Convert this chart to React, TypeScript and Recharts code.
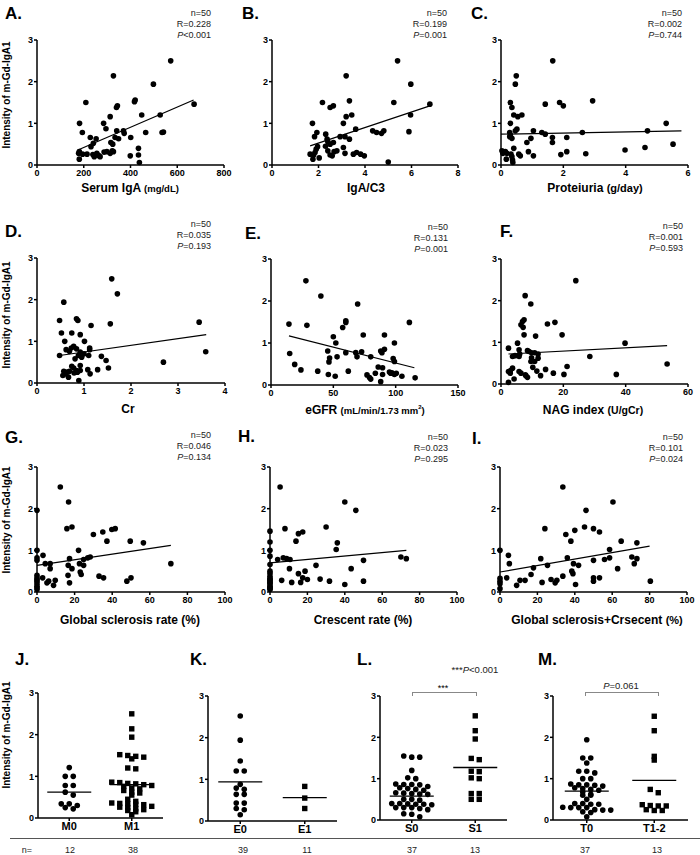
import React from 'react';
import { ScatterChart, Scatter, XAxis, YAxis, ReferenceLine } from 'recharts';

const FONT = '"Liberation Sans", Arial, Helvetica, sans-serif';

// ---- scatter panels: [x, intensity] ----
const igaPts = [[572,2.5],[327,2.14],[498,1.94],[209,1.5],[417,1.52],[420,1.56],[344,1.42],[340,1.38],[672,1.46],[313,1.16],[448,1.2],[527,1.2],[182,1.0],[285,1.0],[295,0.87],[341,0.82],[370,0.82],[373,0.76],[194,0.78],[465,0.78],[535,0.78],[541,0.79],[228,0.66],[253,0.63],[334,0.66],[349,0.63],[401,0.66],[316,0.54],[324,0.5],[231,0.44],[241,0.52],[181,0.32],[178,0.28],[181,0.14],[195,0.26],[214,0.26],[239,0.25],[245,0.2],[256,0.28],[263,0.23],[270,0.2],[287,0.31],[299,0.32],[313,0.28],[322,0.34],[327,0.32],[399,0.22],[434,0.4],[434,0.24],[438,0.06]];
const igaFit = [[175,0.36],[670,1.56]];

const c3Pts = [[5.4,2.5],[3.19,2.14],[5.97,1.94],[2.17,1.5],[3.33,1.54],[5.24,1.5],[2.5,1.38],[2.64,1.42],[3.43,1.2],[3.19,1.16],[5.96,1.2],[1.74,1.0],[3.07,1.0],[3.6,0.86],[1.93,0.78],[4.33,0.82],[4.5,0.78],[4.71,0.76],[4.81,0.82],[5.89,0.8],[6.79,1.46],[2.31,0.74],[1.83,0.68],[2.37,0.62],[2.4,0.56],[2.93,0.68],[3.14,0.68],[3.33,0.62],[2.5,0.5],[2.64,0.54],[1.96,0.44],[3.07,0.42],[1.9,0.38],[1.64,0.26],[1.79,0.24],[1.76,0.14],[2.03,0.17],[2.4,0.34],[2.5,0.24],[2.59,0.22],[2.67,0.32],[2.79,0.34],[3.14,0.28],[3.5,0.26],[3.64,0.3],[3.81,0.26],[3.97,0.22],[5.0,0.07],[2.3,0.45],[1.85,0.3]];
const c3Fit = [[1.64,0.46],[6.79,1.42]];

const protPts = [[1.66,2.5],[0.49,2.14],[0.46,1.94],[0.3,1.5],[0.35,1.38],[1.88,1.5],[2.0,1.42],[1.42,1.46],[2.94,1.54],[0.41,1.2],[0.54,1.16],[0.67,1.2],[0.3,1.0],[0.51,0.86],[0.46,0.82],[1.04,0.82],[0.28,0.78],[1.31,0.78],[1.42,0.74],[1.65,0.66],[2.11,0.66],[2.61,0.78],[4.7,0.82],[5.3,1.0],[0.28,0.68],[0.35,0.64],[0.96,0.64],[0.83,0.54],[1.65,0.54],[0.41,0.4],[0.03,0.34],[0.14,0.32],[0.88,0.32],[2.11,0.32],[0.19,0.28],[0.32,0.26],[0.35,0.2],[0.37,0.12],[0.38,0.06],[0.17,0.14],[0.57,0.26],[0.62,0.22],[1.04,0.22],[1.92,0.25],[2.72,0.27],[3.98,0.36],[4.62,0.42],[5.52,0.5],[0.06,0.28],[0.3,0.72]];
const protFit = [[0,0.74],[5.79,0.82]];

const crPts = [[1.59,2.5],[1.71,2.14],[0.57,1.94],[0.48,1.5],[0.84,1.54],[0.87,1.5],[1.56,1.42],[1.15,1.38],[3.45,1.46],[0.52,1.2],[0.74,1.2],[0.92,1.16],[0.59,1.0],[1.01,1.0],[0.73,0.84],[0.78,0.88],[0.84,0.82],[1.12,0.84],[1.12,0.8],[0.69,0.76],[0.92,0.74],[3.59,0.75],[0.48,0.66],[0.88,0.66],[1.1,0.66],[1.37,0.64],[0.81,0.58],[1.47,0.54],[2.69,0.5],[0.74,0.4],[0.92,0.42],[1.52,0.36],[0.57,0.28],[0.64,0.26],[0.55,0.18],[0.69,0.28],[0.79,0.24],[0.84,0.3],[0.86,0.26],[0.92,0.3],[1.08,0.32],[1.13,0.22],[1.29,0.32],[0.67,0.14],[0.89,0.06],[0.6,0.22],[0.95,0.62],[0.78,0.36],[1.0,0.7],[0.62,0.8]];
const crFit = [[0.48,0.66],[3.6,1.16]];

const gfrPts = [[28,2.48],[40,2.12],[69.5,1.93],[60,1.53],[60,1.49],[111,1.49],[57.5,1.37],[14.4,1.45],[28.8,1.42],[50,1.15],[74,1.19],[91,1.19],[52,1.0],[99,1.0],[91,0.85],[88,0.81],[89,0.77],[15,0.75],[45.5,0.81],[60,0.77],[68,0.77],[69,0.67],[72.7,0.79],[53,0.67],[80,0.67],[47,0.64],[46.5,0.55],[98,0.63],[99,0.56],[19,0.49],[24,0.36],[37.5,0.33],[62,0.33],[46,0.25],[51.5,0.21],[77,0.24],[79,0.18],[80,0.14],[83.7,0.28],[86,0.43],[89.5,0.41],[89.5,0.25],[88,0.08],[95,0.31],[97,0.29],[99,0.25],[100.5,0.28],[105,0.21],[115.6,0.17],[96,0.28]];
const gfrFit = [[14.4,1.17],[115,0.41]];

const nagPts = [[24,2.48],[7.75,2.12],[9.56,1.92],[7.4,1.54],[6.9,1.5],[17.3,1.48],[14.9,1.44],[6.4,1.42],[7.1,1.36],[11.1,1.15],[19.6,1.18],[7.4,1.18],[5.3,0.98],[39.8,0.98],[2.4,0.86],[5.8,0.82],[8.5,0.8],[9,0.78],[9.8,0.75],[10.8,0.75],[11.9,0.72],[3.7,0.66],[5.8,0.66],[28.5,0.66],[11.9,0.62],[9.6,0.54],[10.8,0.54],[9.8,0.63],[53.3,0.48],[21.2,0.42],[3.7,0.38],[14.3,0.35],[2.4,0.3],[2.97,0.26],[5.8,0.3],[6.4,0.26],[11.5,0.31],[16.8,0.26],[20.2,0.23],[37,0.23],[4.2,0.12],[8,0.2],[8.5,0.16],[12.7,0.2],[2.4,0.04],[7.8,0.22],[6.0,0.72],[4.5,0.68],[10.2,0.4],[3.0,0.32]];
const nagFit = [[2.4,0.72],[53.3,0.92]];

const gsPts = [[0,1.96],[0,1.0],[0,0.82],[0,0.76],[0,0.34],[0,0.3],[0,0.26],[0,0.2],[0,0.14],[0,0.06],[0,0.4],[0,0.1],[12.4,2.52],[16.8,2.16],[15.9,1.52],[18.6,1.56],[30,1.38],[35,1.44],[39.8,1.5],[41.6,1.52],[37.2,1.22],[49.6,1.22],[56.6,1.18],[22.1,1.0],[3.2,0.88],[17.3,0.8],[7,0.68],[4.4,0.68],[16.6,0.64],[22.6,0.68],[24.8,0.78],[27,0.82],[28.3,0.84],[24.8,0.64],[71.2,0.68],[7,0.56],[18.6,0.56],[23,0.48],[23.5,0.42],[16.5,0.4],[33,0.38],[35.4,0.34],[50,0.34],[47.8,0.26],[3,0.34],[6.2,0.26],[5.3,0.22],[9.7,0.28],[8.8,0.16],[17.3,0.22]];
const gsFit = [[0,0.64],[71.2,1.12]];

const cresPts = [[0,1.46],[0,1.2],[0,1.0],[0,0.86],[0,0.66],[0,0.38],[0,0.33],[0,0.28],[0,0.24],[0,0.2],[0,0.15],[0,0.1],[0,0.06],[0,0.5],[0,0.45],[0,0.3],[0,0.22],[0,0.12],[0,0.08],[5.4,2.52],[40,2.16],[45.9,1.96],[8,1.52],[30,1.56],[15.2,1.4],[17.5,1.44],[13.9,1.22],[36,1.18],[35.4,1.02],[4.1,0.78],[7.1,0.82],[8.9,0.8],[10.7,0.78],[70,0.84],[72.9,0.8],[50,0.76],[10.4,0.56],[24.6,0.64],[43.4,0.56],[15.2,0.44],[18.75,0.5],[17.5,0.34],[6.25,0.28],[11.6,0.23],[16.4,0.23],[20,0.3],[26.8,0.31],[31.8,0.26],[40,0.18],[50,0.26]];
const cresFit = [[0,0.7],[72.9,1.0]];

const bothPts = [[0,1.0],[0,0.33],[0,0.26],[0,0.2],[0,0.08],[33.6,2.52],[60.4,2.16],[46,1.96],[24,1.52],[45.2,1.56],[50,1.52],[53.2,1.44],[40,1.48],[35.2,1.38],[37.9,1.22],[64.8,1.22],[73.2,1.18],[58.6,1.02],[4.5,0.88],[21.8,0.8],[36,0.82],[58.6,0.82],[70.5,0.84],[73.2,0.8],[50,0.76],[55.9,0.78],[5,0.68],[25.4,0.64],[39.3,0.68],[42,0.64],[71.8,0.68],[17.9,0.58],[62.9,0.56],[16.6,0.42],[38.4,0.5],[39,0.44],[3.6,0.34],[10.7,0.28],[13.4,0.28],[27.3,0.3],[30.4,0.28],[29.5,0.22],[33.6,0.38],[22.5,0.23],[40.4,0.18],[8.9,0.16],[50,0.34],[50,0.26],[53.2,0.34],[80.4,0.26]];
const bothFit = [[0,0.48],[80,1.1]];

// ---- dot plot groups ----
const m0Vals = [1.21,1.0,1.0,0.78,0.78,0.62,0.55,0.34,0.3,0.22,0.25,0.34];
const m1Vals = [2.5,2.14,1.94,1.52,1.5,1.48,1.46,1.42,1.2,1.18,0.86,0.85,0.83,0.82,0.8,0.78,0.76,0.72,0.7,0.66,0.62,0.6,0.55,0.45,0.4,0.36,0.35,0.34,0.33,0.32,0.28,0.26,0.25,0.22,0.2,0.18,0.15,0.08];
const e0Vals = [2.52,1.94,1.44,1.2,1.2,0.88,0.76,0.79,0.64,0.64,0.43,0.43,0.3,0.27,0.15];
const e1Vals = [0.83,0.55,0.3];
const s0Vals = [1.55,1.52,1.52,1.2,1.0,1.02,0.85,0.87,0.86,0.86,0.81,0.78,0.76,0.74,0.72,0.66,0.65,0.64,0.63,0.62,0.5,0.5,0.48,0.4,0.4,0.39,0.38,0.38,0.37,0.3,0.3,0.28,0.3,0.25,0.15,0.14,0.08];
const s1Vals = [2.52,2.16,1.96,1.46,1.49,1.18,1.17,1.0,1.02,0.64,0.64,0.5,0.5];
const t0Vals = [1.94,1.5,1.5,1.38,1.18,1.18,1.14,1.0,1.0,0.87,0.85,0.84,0.85,0.82,0.78,0.76,0.74,0.72,0.68,0.62,0.6,0.6,0.5,0.4,0.38,0.38,0.4,0.3,0.3,0.3,0.31,0.24,0.24,0.25,0.18,0.2,0.08];
const t1Vals = [2.51,2.16,1.45,1.54,0.66,0.74,0.37,0.35,0.34,0.34,0.23,0.23,0.25];

const jMeans = [0.62, 0.8];
const kMeans = [0.94, 0.56];
const lMeans = [0.58, 1.27];
const mMeans = [0.7, 0.96];

const jCounts = ['12', '38'];
const kCounts = ['39', '11'];
const lCounts = ['37', '13'];
const mCounts = ['37', '13'];

const yTicks = [0, 1, 2, 3];

const toXY = (arr: number[][]) => arr.map(([x, y]) => ({ x, y }));

const tickStyle = { fontSize: 9, fontWeight: 700, fill: '#000', fontFamily: FONT };
const axisLine = { stroke: '#000', strokeWidth: 1.5 };

const Circle = (p: any) => <circle cx={p.cx} cy={p.cy} r={2.8} fill="#000" />;
const Square = (p: any) => <rect x={p.cx - 2.7} y={p.cy - 2.7} width={5.4} height={5.4} fill="#000" />;

type Box = { x0: number; x1: number; y3: number; y0: number };

const L = 34, T = 8, R = 8, B = 22;

function ScatterPanel({ box, pts, fit, dom, ticks }: { box: Box; pts: number[][]; fit: number[][]; dom: number[]; ticks: number[] }) {
  const w = box.x1 - box.x0;
  const h = box.y0 - box.y3;
  return (
    <div style={{ position: 'absolute', left: box.x0 - L, top: box.y3 - T }}>
      <ScatterChart width={L + w + R} height={T + h + B} margin={{ top: T, right: R, bottom: 0, left: 0 }}>
        <XAxis type="number" dataKey="x" domain={dom} ticks={ticks} height={B} tick={tickStyle}
          axisLine={axisLine} tickLine={axisLine} tickSize={3} tickMargin={2} interval={0} />
        <YAxis type="number" dataKey="y" domain={[0, 3]} ticks={yTicks} width={L} tick={tickStyle}
          axisLine={axisLine} tickLine={axisLine} tickSize={3} tickMargin={1} interval={0} />
        <ReferenceLine segment={fit.map(([x, y]) => ({ x, y }))} stroke="#000" strokeWidth={1.2} ifOverflow="visible" />
        <Scatter data={toXY(pts)} shape={Circle} isAnimationActive={false} />
      </ScatterChart>
    </div>
  );
}

// group points of similar height into rows, spread each row sideways
function swarm(vals: number[], center: number, unitPerPx: number) {
  const sorted = [...vals].sort((a, b) => b - a);
  const rows: number[][] = [];
  for (const v of sorted) {
    const last = rows[rows.length - 1];
    if (last && last[0] - v < 0.08) last.push(v);
    else rows.push([v]);
  }
  const out: { x: number; y: number }[] = [];
  rows.forEach((r) => r.forEach((v, i) => out.push({ x: center + (i - (r.length - 1) / 2) * 8 * unitPerPx, y: v })));
  return out;
}

function DotPanel({ box, a, b, names, means }: { box: Box; a: number[]; b: number[]; names: string[]; means: number[] }) {
  const w = box.x1 - box.x0;
  const h = box.y0 - box.y3;
  const u = 2 / w;
  const hw = 22 * u;
  const cats = [0.5, 1.5];
  return (
    <div style={{ position: 'absolute', left: box.x0 - L, top: box.y3 - T }}>
      <ScatterChart width={L + w + R} height={T + h + B} margin={{ top: T, right: R, bottom: 0, left: 0 }}>
        <XAxis type="number" dataKey="x" domain={[0, 2]} ticks={cats} height={B}
          tick={{ ...tickStyle, fontSize: 11 }} tickFormatter={(v: number) => (v < 1 ? names[0] : names[1])}
          axisLine={axisLine} tickLine={axisLine} tickSize={3} tickMargin={1} interval={0} />
        <YAxis type="number" dataKey="y" domain={[0, 3]} ticks={yTicks} width={L} tick={tickStyle}
          axisLine={axisLine} tickLine={axisLine} tickSize={3} tickMargin={1} interval={0} />
        <Scatter data={swarm(a, cats[0], u)} shape={Circle} isAnimationActive={false} />
        <Scatter data={swarm(b, cats[1], u)} shape={Square} isAnimationActive={false} />
        {means.map((m, i) => (
          <ReferenceLine key={i} segment={[{ x: cats[i] - hw, y: m }, { x: cats[i] + hw, y: m }]} stroke="#000" strokeWidth={1.3} ifOverflow="visible" />
        ))}
      </ScatterChart>
    </div>
  );
}

const Txt = ({ x, y, size = 9, bold = false, anchor = 'center', children, color = '#000' }: any) => (
  <div style={{
    position: 'absolute', left: x, top: y, fontSize: size, fontWeight: bold ? 700 : 400, lineHeight: 1,
    whiteSpace: 'nowrap', color,
    transform: anchor === 'center' ? 'translate(-50%,-50%)' : anchor === 'right' ? 'translate(-100%,-50%)' : 'translate(0,-50%)',
  }}>{children}</div>
);

const Label = ({ x, y, t }: { x: number; y: number; t: string }) => (
  <div style={{ position: 'absolute', left: x, top: y - 2.2, fontSize: 17, fontWeight: 700, lineHeight: 1 }}>{t}</div>
);

const Stats = ({ x, y, r, p }: { x: number; y: number; r: string; p: string }) => (
  <>
    <Txt x={x} y={y} anchor="right" color="#222">n=50</Txt>
    <Txt x={x} y={y + 10.8} anchor="right" color="#222">R={r}</Txt>
    <Txt x={x} y={y + 21.6} anchor="right" color="#222"><i>P</i>{p}</Txt>
  </>
);

const YTitle = ({ cy }: { cy: number }) => (
  <div style={{
    position: 'absolute', left: 7, top: cy, fontSize: 10, fontWeight: 700, lineHeight: 1, whiteSpace: 'nowrap',
    transform: 'translate(-50%,-50%) rotate(-90deg)',
  }}>Intensity of m-Gd-IgA1</div>
);

const sm = (s: string, size = 9.5) => <span style={{ fontSize: size }}>{s}</span>;

export default function App() {
  const jBox = { x0: 38, x1: 163, y3: 693, y0: 818 };
  const kBox = { x0: 208, x1: 337, y3: 696, y0: 821 };
  const lBox = { x0: 380, x1: 507, y3: 696, y0: 820 };
  const mBox = { x0: 553, x1: 688, y3: 696, y0: 820 };
  return (
    <div style={{ position: 'absolute', left: 0, top: 0, width: 700, height: 855, background: '#fff', fontFamily: FONT, overflow: 'hidden' }}>
      {/* row 1 */}
      <ScatterPanel box={{ x0: 37, x1: 224, y3: 40, y0: 165 }} pts={igaPts} fit={igaFit} dom={[0, 800]} ticks={[0, 200, 400, 600, 800]} />
      <ScatterPanel box={{ x0: 272, x1: 458, y3: 40, y0: 165 }} pts={c3Pts} fit={c3Fit} dom={[0, 8]} ticks={[0, 2, 4, 6, 8]} />
      <ScatterPanel box={{ x0: 501, x1: 688, y3: 40, y0: 165 }} pts={protPts} fit={protFit} dom={[0, 6]} ticks={[0, 2, 4, 6]} />
      {/* row 2 */}
      <ScatterPanel box={{ x0: 37, x1: 225, y3: 258, y0: 383 }} pts={crPts} fit={crFit} dom={[0, 4]} ticks={[0, 1, 2, 3, 4]} />
      <ScatterPanel box={{ x0: 271, x1: 458, y3: 259, y0: 385 }} pts={gfrPts} fit={gfrFit} dom={[0, 150]} ticks={[0, 50, 100, 150]} />
      <ScatterPanel box={{ x0: 501, x1: 688, y3: 259, y0: 384 }} pts={nagPts} fit={nagFit} dom={[0, 60]} ticks={[0, 20, 40, 60]} />
      {/* row 3 */}
      <ScatterPanel box={{ x0: 37, x1: 225, y3: 467, y0: 592 }} pts={gsPts} fit={gsFit} dom={[0, 100]} ticks={[0, 20, 40, 60, 80, 100]} />
      <ScatterPanel box={{ x0: 270, x1: 457, y3: 467, y0: 592 }} pts={cresPts} fit={cresFit} dom={[0, 100]} ticks={[0, 20, 40, 60, 80, 100]} />
      <ScatterPanel box={{ x0: 500, x1: 687, y3: 467, y0: 592 }} pts={bothPts} fit={bothFit} dom={[0, 100]} ticks={[0, 20, 40, 60, 80, 100]} />
      {/* row 4 */}
      <DotPanel box={jBox} a={m0Vals} b={m1Vals} names={['M0', 'M1']} means={jMeans} />
      <DotPanel box={kBox} a={e0Vals} b={e1Vals} names={['E0', 'E1']} means={kMeans} />
      <DotPanel box={lBox} a={s0Vals} b={s1Vals} names={['S0', 'S1']} means={lMeans} />
      <DotPanel box={mBox} a={t0Vals} b={t1Vals} names={['T0', 'T1-2']} means={mMeans} />

      {/* panel letters */}
      <Label x={5} y={7} t="A." />
      <Label x={242} y={7} t="B." />
      <Label x={471} y={7} t="C." />
      <Label x={5} y={225} t="D." />
      <Label x={245} y={227} t="E." />
      <Label x={500} y={225} t="F." />
      <Label x={5} y={431} t="G." />
      <Label x={238} y={430} t="H." />
      <Label x={472} y={432} t="I." />
      <Label x={15} y={653} t="J." />
      <Label x={190} y={653} t="K." />
      <Label x={357} y={653} t="L." />
      <Label x={538} y={653} t="M." />

      {/* stats */}
      <Stats x={211} y={13} r="0.228" p="<0.001" />
      <Stats x={447} y={13} r="0.199" p="=0.001" />
      <Stats x={682} y={13} r="0.002" p="=0.744" />
      <Stats x={211} y={224} r="0.035" p="=0.193" />
      <Stats x={448} y={227} r="0.131" p="=0.001" />
      <Stats x={683} y={226} r="0.001" p="=0.593" />
      <Stats x={211} y={435} r="0.046" p="=0.134" />
      <Stats x={448} y={437} r="0.023" p="=0.295" />
      <Stats x={683} y={437} r="0.101" p="=0.024" />

      {/* x-axis titles */}
      <Txt x={130} y={188} size={12} bold>Serum IgA {sm('(mg/dL)')}</Txt>
      <Txt x={366} y={188} size={12} bold>IgA/C3</Txt>
      <Txt x={595} y={188} size={12} bold>Proteiuria {sm('(g/day)', 11)}</Txt>
      <Txt x={128} y={409} size={12} bold>Cr</Txt>
      <Txt x={365} y={410} size={12} bold>eGFR {sm('(mL/min/1.73 mm')}<sup style={{ fontSize: 6 }}>2</sup>{sm(')')}</Txt>
      <Txt x={593} y={410} size={12} bold>NAG index {sm('(U/gCr)', 10.5)}</Txt>
      <Txt x={130} y={620} size={12} bold>Global sclerosis rate (%)</Txt>
      <Txt x={363} y={620} size={12} bold>Crescent rate (%)</Txt>
      <Txt x={597} y={620} size={12} bold>Global sclerosis+Crsecent {sm('(%)', 11)}</Txt>

      {/* y titles */}
      <YTitle cy={95} />
      <YTitle cy={315} />
      <YTitle cy={520} />
      <YTitle cy={735} />

      {/* brackets */}
      <div style={{ position: 'absolute', left: 412, top: 692, width: 63, height: 3, borderTop: '1px solid #888', borderLeft: '1px solid #888', borderRight: '1px solid #888' }} />
      <Txt x={443} y={688}>***</Txt>
      <Txt x={475} y={670} size={9.5} color="#222">***<i>P</i>&lt;0.001</Txt>
      <div style={{ position: 'absolute', left: 585, top: 692, width: 72, height: 3, borderTop: '1px solid #888', borderLeft: '1px solid #888', borderRight: '1px solid #888' }} />
      <Txt x={621} y={686} size={9.5} color="#222"><i>P</i>=0.061</Txt>

      {/* n row */}
      <div style={{ position: 'absolute', left: 10, top: 838, width: 690, height: 1, background: '#555' }} />
      <Txt x={27} y={850} color="#222">n=</Txt>
      <Txt x={70} y={850} color="#222">{jCounts[0]}</Txt>
      <Txt x={133} y={850} color="#222">{jCounts[1]}</Txt>
      <Txt x={243} y={850} color="#222">{kCounts[0]}</Txt>
      <Txt x={307} y={850} color="#222">{kCounts[1]}</Txt>
      <Txt x={412} y={850} color="#222">{lCounts[0]}</Txt>
      <Txt x={475} y={850} color="#222">{lCounts[1]}</Txt>
      <Txt x={585} y={850} color="#222">{mCounts[0]}</Txt>
      <Txt x={657} y={850} color="#222">{mCounts[1]}</Txt>
    </div>
  );
}
